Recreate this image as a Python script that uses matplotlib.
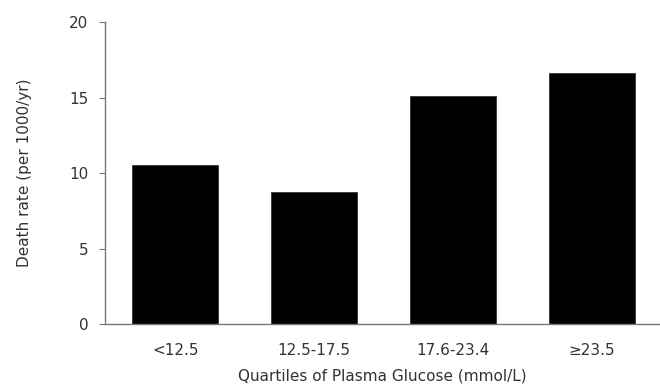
import matplotlib
matplotlib.use("Agg")
import matplotlib.pyplot as plt

categories = ["<12.5", "12.5-17.5", "17.6-23.4", "\u226523.5"]
death_rate = [10.55, 8.75, 15.1, 16.6]
y_ticks = [0, 5, 10, 15, 20]

plt.rcParams['font.family'] = ['DejaVu Sans']

fig = plt.figure(figsize=(6.6, 3.88), dpi=100)
ax = fig.add_axes([0.159, 0.165, 0.841, 0.778])

x = range(len(categories))
ax.bar(x, death_rate, width=0.62, color="black", edgecolor="#333333", linewidth=0.6)

ax.set_xlim(-0.507, 3.49)
ax.set_ylim(0, 20)
ax.set_yticks(y_ticks)
ax.set_xticks(list(x))
ax.set_xticklabels(categories)

for side in ("top", "right"):
    ax.spines[side].set_visible(False)
for side in ("left", "bottom"):
    ax.spines[side].set_color("#777777")
    ax.spines[side].set_linewidth(1.0)

ax.tick_params(axis="y", length=4, color="#777777", labelsize=11,
               labelcolor="#333333", pad=8)
ax.tick_params(axis="x", length=0, labelsize=11, labelcolor="#333333", pad=14)

ax.set_xlabel("Quartiles of Plasma Glucose (mmol/L)", fontsize=11,
              color="#333333", labelpad=7)
ax.set_ylabel("Death rate (per 1000/yr)", fontsize=11, color="#333333",
              labelpad=27)

fig.savefig("out.png", dpi=100)
